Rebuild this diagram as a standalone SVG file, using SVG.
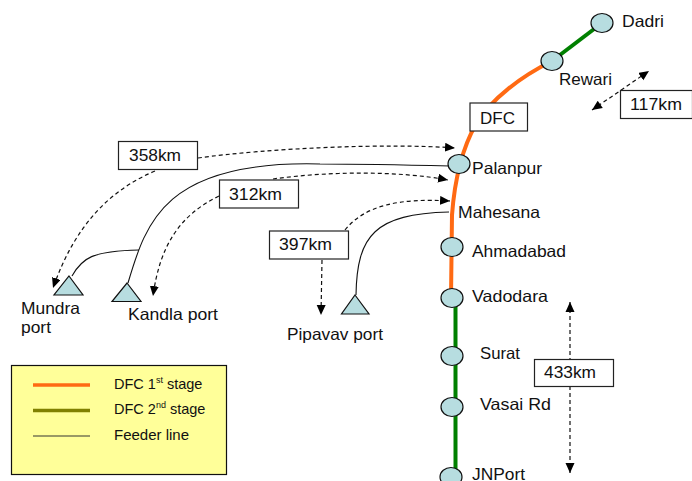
<svg xmlns="http://www.w3.org/2000/svg" width="692" height="481" viewBox="0 0 692 481">
<style>
text{font-family:"Liberation Sans",Arial,sans-serif;font-size:16.5px;fill:#111;}
.lg{font-size:14.5px;}
.sup{font-size:9px;}
.st{fill:#B7DDE0;stroke:#111;stroke-width:1.2;}
.box{fill:#fff;stroke:#222;stroke-width:1.2;}
.feed{fill:none;stroke:#111;stroke-width:1.1;}
.dash{fill:none;stroke:#111;stroke-width:1.2;stroke-dasharray:4 3;}
.arr{marker-end:url(#a);}
.arr2{marker-start:url(#b);marker-end:url(#a);}
</style>
<defs>
<marker id="a" markerUnits="userSpaceOnUse" markerWidth="11" markerHeight="10" refX="10" refY="4.500" orient="auto"><path d="M0,0L10,4.500L0,9Z" fill="#000"/></marker>
<marker id="b" markerUnits="userSpaceOnUse" markerWidth="11" markerHeight="10" refX="0" refY="4.500" orient="auto"><path d="M10,0L0,4.500L10,9Z" fill="#000"/></marker>
</defs>
<rect width="692" height="481" fill="#fff"/>
<g id="connectors">
<path d="M552,61 C522,76 492,98 476,124 C464,145 455,175 452,215 L451,298" fill="none" stroke="#FF6A13" stroke-width="4"/>
<path d="M552,61L602,23" fill="none" stroke="#008000" stroke-width="4"/>
<path d="M455.500,298V477" fill="none" stroke="#008000" stroke-width="4"/>
<path class="feed" d="M128,283 C146,222 165,160 320,164 C370,164 410,165 450,166"/>
<path class="feed" d="M72,276 C82,258 92,251 139,250"/>
<path class="feed" d="M356,295 C357,235 375,214 449,212"/>
<path class="dash arr" d="M198,158 C270,148 390,143 455,148"/>
<path class="dash arr" d="M155,171 C110,190 75,225 53,288"/>
<path class="dash arr" d="M273,179 C330,171 400,171 448,180"/>
<path class="dash arr" d="M219,196 C180,215 160,245 153,296"/>
<path class="dash arr" d="M345,230 C365,205 400,198 450,201"/>
<path class="dash arr" d="M322,260 L321,315"/>
<path class="dash arr2" d="M592,110 L649,71"/>
<path class="dash arr2" d="M570,302 V473"/>
</g>
<g id="dadri"><ellipse class="st" cx="602" cy="23" rx="11" ry="9.500"/><text x="622" y="27" textLength="42" lengthAdjust="spacingAndGlyphs">Dadri</text></g>
<g id="rewari"><ellipse class="st" cx="552" cy="61" rx="11" ry="9.500"/><text x="559" y="85" textLength="53" lengthAdjust="spacingAndGlyphs">Rewari</text></g>
<g id="palanpur"><ellipse class="st" cx="459" cy="164" rx="11" ry="9.500"/><text x="472" y="174" textLength="70" lengthAdjust="spacingAndGlyphs">Palanpur</text></g>
<g id="mahesana"><text x="458" y="218" textLength="82" lengthAdjust="spacingAndGlyphs">Mahesana</text></g>
<g id="ahmadabad"><ellipse class="st" cx="452" cy="247" rx="11" ry="9.500"/><text x="472" y="257" textLength="94" lengthAdjust="spacingAndGlyphs">Ahmadabad</text></g>
<g id="vadodara"><ellipse class="st" cx="452" cy="298" rx="11" ry="9.500"/><text x="472" y="302" textLength="76" lengthAdjust="spacingAndGlyphs">Vadodara</text></g>
<g id="surat"><ellipse class="st" cx="452" cy="356" rx="11" ry="9.500"/><text x="480" y="359" textLength="40" lengthAdjust="spacingAndGlyphs">Surat</text></g>
<g id="vasai"><ellipse class="st" cx="452" cy="407" rx="11" ry="9.500"/><text x="480" y="410" textLength="71" lengthAdjust="spacingAndGlyphs">Vasai Rd</text></g>
<g id="jnport"><ellipse class="st" cx="451" cy="477" rx="11" ry="9.500"/><text x="472" y="479.500" textLength="53" lengthAdjust="spacingAndGlyphs">JNPort</text></g>
<g id="mundra"><path class="st" d="M69,276L83,295H54Z"/><text x="21" y="314" textLength="59" lengthAdjust="spacingAndGlyphs">Mundra</text><text x="21" y="333" textLength="30" lengthAdjust="spacingAndGlyphs">port</text></g>
<g id="kandla"><path class="st" d="M127,283L141,301.500H112Z"/><text x="128" y="320" textLength="90" lengthAdjust="spacingAndGlyphs">Kandla port</text></g>
<g id="pipavav"><path class="st" d="M355,295L369,314H341.500Z"/><text x="287" y="340" textLength="96" lengthAdjust="spacingAndGlyphs">Pipavav port</text></g>
<g id="dfc"><rect class="box" x="470" y="103" width="57.500" height="28"/><text x="480" y="124" textLength="35" lengthAdjust="spacingAndGlyphs">DFC</text></g>
<g id="km117"><rect class="box" x="620.500" y="90.500" width="72" height="28"/><text x="630" y="110" textLength="52" lengthAdjust="spacingAndGlyphs">117km</text></g>
<g id="km358"><rect class="box" x="118.500" y="141.500" width="79" height="28"/><text x="129" y="161" textLength="52" lengthAdjust="spacingAndGlyphs">358km</text></g>
<g id="km312"><rect class="box" x="219.500" y="180" width="79" height="28"/><text x="229" y="200" textLength="53" lengthAdjust="spacingAndGlyphs">312km</text></g>
<g id="km397"><rect class="box" x="269.500" y="231" width="79" height="28"/><text x="279" y="250" textLength="53" lengthAdjust="spacingAndGlyphs">397km</text></g>
<g id="km433"><rect class="box" x="534.500" y="359.500" width="79" height="27"/><text x="544" y="378" textLength="52" lengthAdjust="spacingAndGlyphs">433km</text></g>
<g id="legend">
<rect x="11.500" y="365.500" width="215" height="109" fill="#FFFF99" stroke="#111" stroke-width="1.2"/>
<path d="M33,385H90" stroke="#FF6A13" stroke-width="3.500" fill="none"/>
<path d="M33,410.500H90" stroke="#808000" stroke-width="3.500" fill="none"/>
<path d="M33,436H90" stroke="#777755" stroke-width="1.500" fill="none"/>
<text class="lg" x="114" y="389">DFC 1<tspan class="sup" dy="-6">st</tspan><tspan dy="6"> stage</tspan></text>
<text class="lg" x="114" y="414">DFC 2<tspan class="sup" dy="-6">nd</tspan><tspan dy="6"> stage</tspan></text>
<text class="lg" x="114" y="440" textLength="75" lengthAdjust="spacingAndGlyphs">Feeder line</text>
</g>
</svg>
